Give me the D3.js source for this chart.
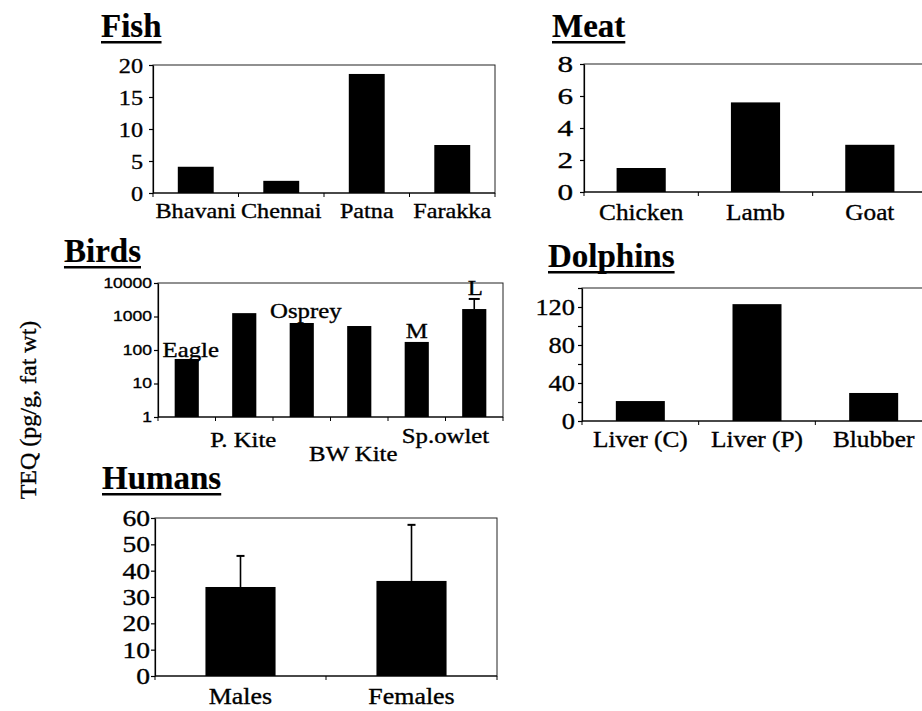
<!DOCTYPE html>
<html lang="en">
<head>
<meta charset="UTF-8">
<title>TEQ by sample type</title>
<script src="https://d3js.org/d3.v7.min.js"></script>
<style>
  body { margin: 0; background: #fff; }
  svg { display: block; }
</style>
</head>
<body>
<svg id="chart"></svg>
<script>
// values
const fishSites = ["Bhavani", "Chennai", "Patna", "Farakka"];
const fishTEQ = [4.1, 1.9, 18.6, 7.5];
const fishTicks = [0, 5, 10, 15, 20];

const meatTypes = ["Chicken", "Lamb", "Goat"];
const meatTEQ = [1.5, 5.6, 2.95];
const meatTicks = [0, 2, 4, 6, 8];

const birdBars = ["Eagle", "P. Kite", "Osprey", "BW Kite", "Sp.owlet M", "Sp.owlet L"];
const birdTEQ = [54, 1260, 640, 520, 174, 1670];
const birdUpper = [null, null, null, null, null, 3340];
const birdTicks = [1, 10, 100, 1000, 10000];

const dolphinTissues = ["Liver (C)", "Liver (P)", "Blubber"];
const dolphinTEQ = [21, 123, 29.5];
const dolphinTicks = [0, 40, 80, 120];
const dolphinMinor = [20, 60, 100, 140];

const humanGroups = ["Males", "Females"];
const humanTEQ = [33.8, 36.1];
const humanSD = [11.8, 21.3];
const humanTicks = [0, 10, 20, 30, 40, 50, 60];

const SERIF = '"Liberation Serif", "Times New Roman", serif';
const SANS = '"Liberation Sans", Arial, sans-serif';

const W = 922, H = 711;
const svg = d3.select("#chart").attr("width", W).attr("height", H);

// text with a horizontal stretch (the scanned panels are a bit wide)
function stext(g, x, y, str, size, sx, anchor, weight, family) {
    return g.append("text")
        .attr("transform", `translate(${x},${y}) scale(${sx},1)`)
        .attr("text-anchor", anchor || "middle")
        .style("font-family", family || SERIF)
        .style("font-size", size + "px")
        .style("font-weight", weight || "normal")
        .attr("fill", "#000")
        .attr("stroke", "#000")
        .attr("stroke-width", weight === "bold" ? 0.2 : 0.35)
        .text(str);
}

function title(x, y, str, anchor) {
    const t = stext(svg, x, y, str, 33, 1, anchor || "start", "bold");
    const w = t.node().getComputedTextLength();
    const x0 = anchor === "end" ? x - w : x;
    svg.append("rect").attr("x", x0).attr("y", y + 4).attr("width", w).attr("height", 2.5).attr("fill", "#000");
}

function panel(o) {
    const g = svg.append("g");
    const x = d3.scaleBand().domain(o.cats).range([o.left, o.right]);
    const y = o.log
        ? d3.scaleLog().domain(o.domain).range([o.bottom, o.top])
        : d3.scaleLinear().domain(o.domain).range([o.bottom, o.top]);
    const bw = x.bandwidth() * o.barFrac;
    const cx = c => x(c) + x.bandwidth() / 2;

    // frame
    g.append("rect")
        .attr("x", o.left).attr("y", o.top)
        .attr("width", o.right - o.left).attr("height", o.bottom - o.top)
        .attr("fill", "none").attr("stroke", "#222").attr("stroke-width", 1);

    // bars
    g.selectAll(".bar").data(o.vals).join("rect")
        .attr("x", (d, i) => cx(o.cats[i]) - bw / 2)
        .attr("width", bw)
        .attr("y", d => y(d))
        .attr("height", d => y(o.domain[0]) - y(d))
        .attr("fill", "#000");

    // upper error bars
    if (o.upper) {
        o.upper.forEach((u, i) => {
            if (u == null) return;
            const xc = cx(o.cats[i]);
            g.append("line").attr("x1", xc).attr("x2", xc)
                .attr("y1", y(o.vals[i])).attr("y2", y(u))
                .attr("stroke", "#000").attr("stroke-width", 1.6);
            g.append("line").attr("x1", xc - o.cap).attr("x2", xc + o.cap)
                .attr("y1", y(u)).attr("y2", y(u))
                .attr("stroke", "#000").attr("stroke-width", 2);
        });
    }

    // y axis
    const ya = g.append("g").attr("transform", `translate(${o.left},0)`)
        .call(d3.axisLeft(y).tickValues(o.minor || o.ticks).tickSize(4).tickSizeOuter(0).tickFormat(""));
    ya.selectAll("path,line").attr("stroke", "#000").attr("stroke-width", 1.2);
    o.ticks.forEach(t => {
        stext(g, o.left - 4 - o.pad, y(t), t, o.tickFont, o.tickSx, "end", "normal", o.sans ? SANS : SERIF)
            .attr("dy", "0.35em");
    });

    // x axis baseline + ticks at band edges
    g.append("line").attr("x1", o.left).attr("x2", o.right)
        .attr("y1", o.bottom).attr("y2", o.bottom)
        .attr("stroke", "#000").attr("stroke-width", 1.2);
    const edges = o.cats.map(c => x(c)).concat([o.right]);
    g.selectAll(".xt").data(edges).join("line")
        .attr("x1", d => d).attr("x2", d => d)
        .attr("y1", o.bottom).attr("y2", o.bottom + 4)
        .attr("stroke", "#000").attr("stroke-width", 1);

    // category labels
    if (o.labelY) {
        o.cats.forEach(c => stext(g, cx(c), o.labelY, c, o.labelFont, o.labelSx));
    }
    return { x, y, cx, g };
}

// Fish
title(101, 37, "Fish");
panel({ cats: fishSites, vals: fishTEQ, ticks: fishTicks, domain: [0, 20],
    left: 153, right: 495, top: 65, bottom: 193, barFrac: 0.42,
    tickFont: 22, tickSx: 1.1, pad: 6, labelY: 218, labelFont: 22, labelSx: 1.1 });

// Meat
title(552, 37, "Meat");
panel({ cats: meatTypes, vals: meatTEQ, ticks: meatTicks, domain: [0, 8],
    left: 584, right: 927, top: 64, bottom: 192, barFrac: 0.43,
    tickFont: 24, tickSx: 1.3, pad: 7, labelY: 220, labelFont: 23, labelSx: 1.1 });

// Birds (log scale, labels placed as in the figure)
title(141, 262, "Birds", "end");
const b = panel({ cats: birdBars, vals: birdTEQ, upper: birdUpper, ticks: birdTicks, domain: [1, 10000], log: true,
    left: 158, right: 503, top: 283, bottom: 417, barFrac: 0.42, cap: 5.5,
    tickFont: 14, tickSx: 1.25, pad: 2, sans: true });
const birdNotes = [
    { text: "Eagle", i: 0, dx: 4, dy: -2, ref: "top" },
    { text: "Osprey", i: 2, dx: 4, dy: -5, ref: "top" },
    { text: "M", i: 4, dx: 0, dy: -4, ref: "top" },
    { text: "L", i: 5, dx: 1, dy: -4, ref: "err" },
    { text: "P. Kite", i: 1, dx: -1, y: 447 },
    { text: "BW Kite", i: 3, dx: -6, y: 461 },
    { text: "Sp.owlet", i: 4.5, dx: 0, y: 443 }
];
birdNotes.forEach(n => {
    const i0 = Math.floor(n.i);
    let xc = b.cx(birdBars[i0]);
    if (n.i !== i0) xc = b.x(birdBars[i0 + 1]);
    let yy = n.y;
    if (n.ref === "top") yy = b.y(birdTEQ[n.i]) + n.dy;
    if (n.ref === "err") yy = b.y(birdUpper[n.i]) + n.dy;
    stext(svg, xc + n.dx, yy, n.text, 21, 1.18);
});

// Dolphins
title(548, 267, "Dolphins");
panel({ cats: dolphinTissues, vals: dolphinTEQ, ticks: dolphinTicks, minor: dolphinTicks.concat(dolphinMinor), domain: [0, 140],
    left: 582, right: 932, top: 288, bottom: 421, barFrac: 0.42,
    tickFont: 24, tickSx: 1.1, pad: 3, labelY: 447, labelFont: 23, labelSx: 1.1 });

// Humans
title(102, 489, "Humans");
panel({ cats: humanGroups, vals: humanTEQ, upper: humanTEQ.map((v, i) => v + humanSD[i]), ticks: humanTicks, domain: [0, 60],
    left: 155, right: 497, top: 518, bottom: 676, barFrac: 0.41, cap: 4,
    tickFont: 23, tickSx: 1.2, pad: 1, labelY: 704, labelFont: 24, labelSx: 1.08 });

// shared y label
stext(svg, 0, 0, "TEQ (pg/g, fat wt)", 24, 1)
    .attr("transform", "translate(36,410) rotate(-90)");
</script>
</body>
</html>
